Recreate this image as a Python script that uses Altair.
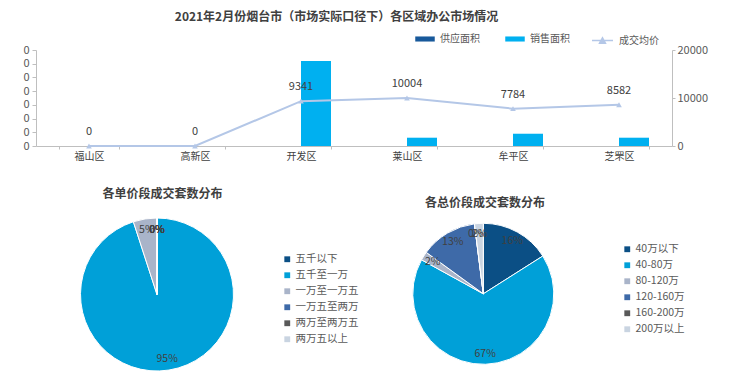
import altair as alt
import pandas as pd

# ---------------- data ----------------
regions = ["福山区", "高新区", "开发区", "莱山区", "牟平区", "芝罘区"]
supply_area = [0, 0, 0, 0, 0, 0]
sales_area = [0, 0, 12400, 1210, 1790, 1210]
avg_price = [0, 0, 9341, 10004, 7784, 8582]
bar_series = ["供应面积", "销售面积"]
line_series = ["成交均价"]
left_ticks = [0, 2000, 4000, 6000, 8000, 10000, 12000, 14000]
right_ticks = [0, 10000, 20000]

unit_labels = ["五千以下", "五千至一万", "一万至一万五", "一万五至两万", "两万至两万五", "两万五以上"]
unit_share = [0, 95, 5, 0, 0, 0]
total_labels = ["40万以下", "40-80万", "80-120万", "120-160万", "160-200万", "200万以上"]
total_share = [16, 67, 2, 13, 0, 2]

main_title = "2021年2月份烟台市（市场实际口径下）各区域办公市场情况"
pie1_title = "各单价段成交套数分布"
pie2_title = "各总价段成交套数分布"

# ---------------- style ----------------
FONT = "Noto Sans CJK SC"
W, H = 724, 376
X_RANGE = [28, 664]
Y_RANGE = [138, 42]
bar_colors = ["#18599b", "#00b0f0"]
line_color = "#b4c7e7"
pie_colors = ["#0b4f85", "#00a0d8", "#a9b4c9", "#3e6aa8", "#595959", "#c9d4e1"]
axis_grey = "#bfbfbf"
text_grey = "#595959"

bar_df = pd.DataFrame({
    "region": regions * 2,
    "series": [bar_series[0]] * len(regions) + [bar_series[1]] * len(regions),
    "area": supply_area + sales_area,
})
price_df = pd.DataFrame({
    "region": regions,
    "price": avg_price,
    "name": line_series * len(regions),
    "label": [str(v) for v in avg_price],
})
pie1_df = pd.DataFrame({
    "cat1": unit_labels, "share": unit_share, "idx": list(range(len(unit_labels))),
    "label": [f"{v}%" for v in unit_share],
})
pie2_df = pd.DataFrame({
    "cat2": total_labels, "share": total_share, "idx": list(range(len(total_labels))),
    "label": [f"{v}%" for v in total_share],
})

x_enc = alt.X(
    "region:N", sort=regions,
    scale=alt.Scale(domain=regions, range=X_RANGE, paddingInner=0.434, paddingOuter=0.217),
    axis=alt.Axis(title=None, labelAngle=0, labelFont=FONT, labelFontSize=10, labelColor="#404040",
                  domainColor=axis_grey, tickColor=axis_grey, tickSize=3, tickBand="extent",
                  labelPadding=2, offset=-(H - Y_RANGE[0]), grid=False),
)

bars = alt.Chart(bar_df).mark_bar().encode(
    x=x_enc,
    xOffset=alt.XOffset("series:N", sort=bar_series, scale=alt.Scale(domain=bar_series, paddingInner=0, paddingOuter=0)),
    y=alt.Y("area:Q", scale=alt.Scale(domain=[0, 14000], range=Y_RANGE, nice=False, zero=True),
            axis=alt.Axis(orient="left", title=None, values=left_ticks, labelExpr="'0'", offset=-X_RANGE[0],
                          labelFont=FONT, labelFontSize=11, labelColor=text_grey, domainColor=axis_grey,
                          tickColor=axis_grey, tickSize=4, labelPadding=3, grid=False)),
    color=alt.Color("series:N", scale=alt.Scale(domain=bar_series, range=bar_colors),
                    legend=alt.Legend(title=None, orient="none", direction="horizontal", legendX=407, legendY=21,
                                      symbolType="M-1,-0.26L1,-0.26L1,0.26L-1,0.26Z", symbolSize=380,
                                      symbolStrokeWidth=0, labelFont=FONT, labelFontSize=10, labelColor=text_grey,
                                      labelOffset=5, columnPadding=25)),
)

price_y = alt.Y("price:Q", scale=alt.Scale(domain=[0, 20000], range=Y_RANGE, nice=False),
                axis=alt.Axis(orient="right", title=None, values=right_ticks, format="d", offset=-(W - X_RANGE[1]),
                              labelFont=FONT, labelFontSize=11, labelColor=text_grey, domainColor=axis_grey,
                              tickColor=axis_grey, tickSize=3, labelPadding=2, grid=False))

line = alt.Chart(price_df).mark_line(color=line_color, strokeWidth=2).encode(x=x_enc, y=price_y)
points = alt.Chart(price_df).mark_point(shape="triangle-up", filled=True, size=32, opacity=1).encode(
    x=x_enc, y=price_y,
    color=alt.Color("name:N", scale=alt.Scale(domain=line_series, range=[line_color]),
                    legend=alt.Legend(title=None, orient="none", legendX=583, legendY=21,
                                      symbolType="M-1,0L1,0M-0.28,0.26L0,-0.26L0.28,0.26Z", symbolSize=440,
                                      symbolStrokeColor=line_color, symbolStrokeWidth=1.5,
                                      labelFont=FONT, labelFontSize=10, labelColor=text_grey, labelOffset=5)),
)
price_text = alt.Chart(price_df).mark_text(font=FONT, fontSize=11, color="#404040", dy=-14).encode(
    x=x_enc, y=price_y, text="label:N")

line_group = alt.layer(line, points, price_text)
top = alt.layer(bars, line_group).resolve_scale(y="independent", color="independent")

# ---------------- pies ----------------
def pie(df, cat, labels, cx, cy, r, label_r, legend_x, legend_y):
    arc = alt.Chart(df).mark_arc(radius=r, stroke="white", strokeWidth=1).encode(
        theta=alt.Theta("share:Q", stack=True),
        order=alt.Order("idx:Q", sort="ascending"),
        x=alt.value(cx), y=alt.value(cy),
        color=alt.Color(f"{cat}:N", sort=labels, scale=alt.Scale(domain=labels, range=pie_colors),
                        legend=alt.Legend(title=None, orient="none", legendX=legend_x, legendY=legend_y,
                                          symbolType="square", symbolSize=34, symbolStrokeWidth=0,
                                          labelFont=FONT, labelFontSize=10.5, labelColor=text_grey,
                                          labelOffset=3, rowPadding=5)),
    )
    txt = alt.Chart(df).mark_text(radius=label_r, font=FONT, fontSize=10.5, color="#404040").encode(
        theta=alt.Theta("share:Q", stack=True),
        order=alt.Order("idx:Q", sort="ascending"),
        x=alt.value(cx), y=alt.value(cy),
        text="label:N",
    )
    return alt.layer(arc, txt)

pie1 = pie(pie1_df, "cat1", unit_labels, 149, 286.5, 76.5, 65, 274, 246)
pie2 = pie(pie2_df, "cat2", total_labels, 475.3, 285.8, 70.5, 60, 614, 236)

# ---------------- titles ----------------
def title_mark(text, cx, cy):
    return alt.Chart(pd.DataFrame({"t": [text]})).mark_text(
        font=FONT, fontSize=12, fontWeight="bold", color="#404040", baseline="middle", align="center"
    ).encode(text="t:N", x=alt.value(cx), y=alt.value(cy))

titles = alt.layer(
    title_mark(main_title, 328.5, 9),
    title_mark(pie1_title, 154.5, 186),
    title_mark(pie2_title, 477, 194.7),
)

chart = alt.layer(top, pie1, pie2, titles).resolve_scale(
    color="independent", theta="independent"
).properties(
    width=W, height=H, padding=0, autosize=alt.AutoSizeParams(type="none"), background="white"
).configure_view(stroke=None)

chart.save("out.html", embed_options={"renderer": "svg", "actions": False})
